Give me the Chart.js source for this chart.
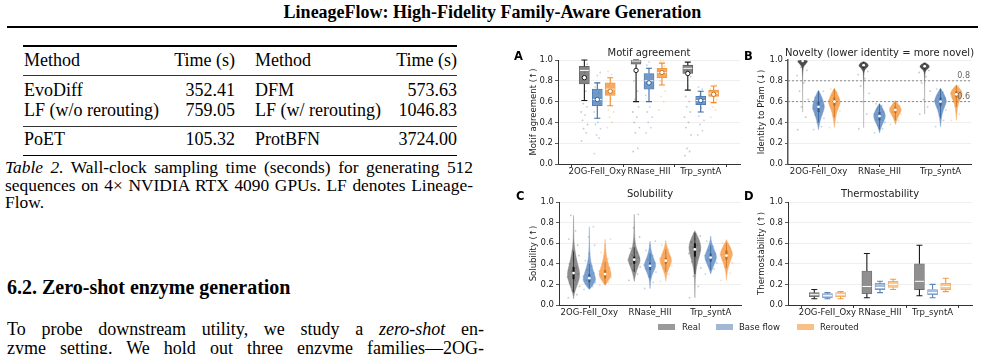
<!DOCTYPE html>
<html><head><meta charset="utf-8">
<script src="https://cdn.jsdelivr.net/npm/chart.js@4.4.1/dist/chart.umd.min.js"></script>
<style>
body{margin:0;width:985px;height:354px;overflow:hidden;background:#fff;position:relative;font-family:"Liberation Serif","Times New Roman",serif;color:#000}
.t{position:absolute;white-space:nowrap}
.c18{font-size:18px;line-height:20px}
.rule{position:absolute;background:#000}
.just{position:absolute;white-space:nowrap;text-align:justify;text-align-last:justify}
canvas{position:absolute}
.letter{position:absolute;font-family:"DejaVu Sans",sans-serif;font-weight:bold;font-size:11.5px;line-height:11px}
.patch{position:absolute;width:17px;height:6px;top:324px}
.lg{position:absolute;font-family:"DejaVu Sans",sans-serif;font-size:8.5px;line-height:10px;top:322px;color:#222;white-space:nowrap}
</style></head><body>

<div class="t" style="left:0;width:985px;text-align:center;top:2px;font-weight:bold;font-size:18px;line-height:20px">LineageFlow: High-Fidelity Family-Aware Generation</div>
<div class="rule" style="left:7px;top:26px;width:971px;height:2px"></div>

<!-- Table 2 -->
<div class="rule" style="left:23px;top:45px;width:434px;height:1.6px"></div>
<div class="t c18" style="left:24px;top:50.4px">Method</div>
<div class="t c18" style="right:750px;top:50.4px">Time (s)</div>
<div class="t c18" style="left:255px;top:50.4px">Method</div>
<div class="t c18" style="right:528px;top:50.4px">Time (s)</div>
<div class="rule" style="left:23px;top:74.5px;width:434px;height:1px;background:#333"></div>
<div class="t c18" style="left:24px;top:80.4px">EvoDiff</div>
<div class="t c18" style="right:750px;top:80.4px">352.41</div>
<div class="t c18" style="left:255px;top:80.4px">DFM</div>
<div class="t c18" style="right:528px;top:80.4px">573.63</div>
<div class="t c18" style="left:24px;top:100.4px">LF (w/o rerouting)</div>
<div class="t c18" style="right:750px;top:100.4px">759.05</div>
<div class="t c18" style="left:255px;top:100.4px">LF (w/ rerouting)</div>
<div class="t c18" style="right:528px;top:100.4px">1046.83</div>
<div class="rule" style="left:23px;top:125.5px;width:434px;height:1.2px;background:#333"></div>
<div class="t c18" style="left:24px;top:129.4px">PoET</div>
<div class="t c18" style="right:750px;top:129.4px">105.32</div>
<div class="t c18" style="left:255px;top:129.4px">ProtBFN</div>
<div class="t c18" style="right:528px;top:129.4px">3724.00</div>
<div class="rule" style="left:23px;top:154.5px;width:434px;height:1.6px"></div>

<div class="just" style="left:5px;width:468px;top:158.3px;font-size:17.4px;line-height:18px"><i>Table 2.</i> Wall-clock sampling time (seconds) for generating 512</div>
<div class="just" style="left:5px;width:468px;top:176.3px;font-size:17.4px;line-height:18px">sequences on 4× NVIDIA RTX 4090 GPUs. LF denotes Lineage-</div>
<div class="t" style="left:5px;top:193.3px;font-size:17.4px;line-height:18px">Flow.</div>

<div class="t" style="left:7px;top:275.8px;font-size:20px;line-height:22px;font-weight:bold">6.2. Zero-shot enzyme generation</div>
<div class="just c18" style="left:7px;width:477px;top:319.4px">To probe downstream utility, we study a <i>zero-shot</i> en-</div>
<div class="just c18" style="left:7px;width:477px;top:338.4px">zyme setting. We hold out three enzyme families—2OG-</div>

<!-- Figure -->
<canvas id="cA" width="240" height="135" style="left:505px;top:45px;width:240px;height:135px"></canvas>
<canvas id="cB" width="245" height="135" style="left:740px;top:45px;width:245px;height:135px"></canvas>
<canvas id="cC" width="240" height="136" style="left:505px;top:185px;width:240px;height:136px"></canvas>
<canvas id="cD" width="245" height="136" style="left:740px;top:185px;width:245px;height:136px"></canvas>
<div class="letter" style="left:514px;top:51px">A</div>
<div class="letter" style="left:744px;top:51px">B</div>
<div class="letter" style="left:516px;top:191px">C</div>
<div class="letter" style="left:744px;top:191px">D</div>

<div class="patch" style="left:658px;background:#9a9a9a"></div><div class="lg" style="left:682px">Real</div>
<div class="patch" style="left:716px;background:#a0b7d6"></div><div class="lg" style="left:739px">Base flow</div>
<div class="patch" style="left:797px;background:#f9bf87"></div><div class="lg" style="left:820px">Rerouted</div>

<script>
// ---------------- DATA ----------------
const families = ['2OG-FeII_Oxy', 'RNase_HII', 'Trp_syntA'];
const methods = ['Real', 'Base flow', 'Rerouted'];
const yTickValues = [0.0, 0.2, 0.4, 0.6, 0.8, 1.0];
const xTickIdx = [0, 1, 2];

// Panel A: Motif agreement — box stats [whisker low, Q1, median, Q3, whisker high]
const motifRealBox = [[0.61,0.77,0.90,0.94,1.00],[0.60,0.96,0.99,1.00,1.00],[0.71,0.87,0.92,0.95,0.98]];
const motifBaseBox = [[0.44,0.56,0.62,0.72,0.78],[0.60,0.72,0.80,0.87,0.92],[0.50,0.57,0.61,0.65,0.70]];
const motifRerBox  = [[0.56,0.66,0.72,0.78,0.83],[0.76,0.83,0.88,0.92,0.97],[0.59,0.65,0.68,0.71,0.75]];
const motifRealMean = [0.83, 0.90, 0.87];
const motifBaseMean = [0.62, 0.78, 0.61];
const motifRerMean  = [0.70, 0.88, 0.67];
const motifRealPts = [[0.22,0.30,0.34,0.38,0.42,0.47,0.50,0.55,0.58,0.70,0.80,0.88,0.96],[0.12,0.15,0.30,0.35,0.40,0.45,0.50,0.55,0.62,0.70,0.80,0.88],[0.08,0.12,0.15,0.28,0.35,0.40,0.45,0.50,0.55,0.60,0.65,0.75,0.84,0.90]];
const motifBasePts = [[0.10,0.25,0.28,0.34,0.38,0.40,0.50,0.58,0.63,0.68,0.74,0.85,0.88],[0.30,0.35,0.40,0.45,0.50,0.55,0.66,0.74,0.80,0.86,0.95,0.98],[0.28,0.32,0.38,0.42,0.46,0.54,0.58,0.62,0.66,0.72,0.74]];
const motifRerPts  = [[0.35,0.40,0.45,0.50,0.52,0.62,0.68,0.72,0.76,0.86,0.89],[0.52,0.60,0.65,0.70,0.80,0.86,0.90,0.94,0.99,1.00],[0.45,0.52,0.55,0.62,0.66,0.69,0.72,0.76]];

// Panel B: Novelty (identity to Pfam) — violin density knots [value, relative density]
const novRealKnots = [
  [[0.50,0.005],[0.90,0.01],[0.95,0.25],[0.975,0.75],[0.99,0.85],[1.00,0.6]],
  [[0.35,0.005],[0.86,0.01],[0.91,0.2],[0.93,0.65],[0.95,0.85],[0.97,0.55],[0.985,0.08]],
  [[0.48,0.005],[0.86,0.01],[0.90,0.2],[0.92,0.65],[0.94,0.85],[0.96,0.55],[0.975,0.08]]];
const novBaseKnots = [
  [[0.33,0.0],[0.38,0.12],[0.45,0.45],[0.52,0.9],[0.56,1.0],[0.62,0.7],[0.67,0.35],[0.71,0.0]],
  [[0.30,0.0],[0.35,0.2],[0.42,0.8],[0.46,1.0],[0.50,0.8],[0.55,0.4],[0.58,0.0]],
  [[0.36,0.0],[0.44,0.12],[0.52,0.45],[0.58,0.9],[0.61,1.0],[0.66,0.7],[0.73,0.0]]];
const novRerKnots = [
  [[0.35,0.0],[0.42,0.12],[0.50,0.4],[0.57,0.9],[0.60,1.0],[0.65,0.7],[0.70,0.3],[0.73,0.0]],
  [[0.38,0.0],[0.44,0.3],[0.50,0.9],[0.52,1.0],[0.56,0.7],[0.61,0.0]],
  [[0.42,0.0],[0.55,0.15],[0.62,0.6],[0.67,1.0],[0.71,0.8],[0.76,0.0]]];
const novRealStats = [[0.97,0.98,0.99,1.00,1.00],[0.92,0.94,0.95,0.96,0.98],[0.91,0.93,0.94,0.95,0.97]];
const novBaseStats = [[0.40,0.50,0.55,0.60,0.70],[0.33,0.42,0.46,0.50,0.58],[0.44,0.56,0.60,0.64,0.72]];
const novRerStats  = [[0.45,0.56,0.60,0.64,0.72],[0.42,0.49,0.52,0.55,0.60],[0.55,0.64,0.67,0.70,0.76]];
const novRealPts = [[0.33,0.45,0.55,0.62,0.70,0.78,0.85,0.90,0.93,0.96],[0.34,0.48,0.60,0.68,0.75,0.82,0.86,0.89,0.91],[0.48,0.55,0.62,0.70,0.78,0.84,0.88,0.90]];
const novBasePts = [[0.33,0.36,0.40,0.44,0.47,0.50,0.53,0.56,0.58,0.61,0.64,0.67,0.70],[0.30,0.34,0.37,0.40,0.43,0.45,0.48,0.50,0.53,0.56,0.58],[0.36,0.42,0.47,0.52,0.55,0.58,0.61,0.63,0.66,0.69,0.72]];
const novRerPts  = [[0.35,0.40,0.46,0.51,0.55,0.58,0.61,0.63,0.66,0.69,0.72],[0.38,0.42,0.45,0.48,0.50,0.52,0.54,0.56,0.58,0.60],[0.42,0.48,0.55,0.60,0.63,0.66,0.68,0.70,0.72,0.75]];
const noveltyThresholds = [0.8, 0.6];

// Panel C: Solubility — violin density knots
const solRealKnots = [
  [[0.06,0.0],[0.10,0.08],[0.15,0.3],[0.22,0.75],[0.28,1.0],[0.34,0.9],[0.42,0.55],[0.50,0.3],[0.58,0.12],[0.65,0.05],[0.87,0.0]],
  [[0.23,0.0],[0.30,0.2],[0.37,0.6],[0.43,1.0],[0.48,0.8],[0.54,0.4],[0.60,0.15],[0.70,0.05],[0.88,0.0]],
  [[0.07,0.0],[0.20,0.04],[0.30,0.1],[0.40,0.35],[0.48,0.75],[0.56,1.0],[0.62,0.75],[0.68,0.35],[0.72,0.0]]];
const solBaseKnots = [
  [[0.15,0.0],[0.18,0.4],[0.23,0.95],[0.26,1.0],[0.32,0.7],[0.38,0.4],[0.45,0.15],[0.55,0.05],[0.76,0.0]],
  [[0.16,0.0],[0.25,0.1],[0.32,0.5],[0.38,1.0],[0.43,0.7],[0.50,0.3],[0.56,0.1],[0.62,0.0]],
  [[0.30,0.0],[0.35,0.25],[0.40,0.6],[0.46,1.0],[0.51,0.75],[0.57,0.35],[0.62,0.1],[0.66,0.0]]];
const solRerKnots = [
  [[0.19,0.0],[0.22,0.35],[0.27,0.85],[0.30,1.0],[0.35,0.75],[0.42,0.4],[0.50,0.15],[0.64,0.0]],
  [[0.23,0.0],[0.30,0.15],[0.37,0.6],[0.43,1.0],[0.48,0.7],[0.54,0.3],[0.62,0.0]],
  [[0.24,0.0],[0.32,0.1],[0.40,0.45],[0.47,0.9],[0.50,1.0],[0.55,0.7],[0.60,0.3],[0.63,0.0]]];
const solRealStats = [[0.12,0.25,0.31,0.37,0.52],[0.32,0.40,0.44,0.47,0.56],[0.30,0.47,0.54,0.60,0.70]];
const solBaseStats = [[0.16,0.22,0.26,0.30,0.40],[0.26,0.34,0.38,0.41,0.50],[0.34,0.42,0.46,0.50,0.58]];
const solRerStats  = [[0.20,0.26,0.30,0.34,0.42],[0.32,0.40,0.43,0.46,0.54],[0.36,0.44,0.48,0.53,0.60]];
const solRealPts = [[0.07,0.10,0.14,0.18,0.21,0.24,0.27,0.30,0.33,0.36,0.40,0.44,0.48,0.53,0.58,0.64,0.72,0.87],[0.24,0.30,0.34,0.37,0.40,0.42,0.44,0.46,0.48,0.51,0.55,0.60,0.66,0.75,0.88],[0.07,0.18,0.28,0.36,0.42,0.46,0.50,0.53,0.56,0.58,0.61,0.64,0.67,0.70]];
const solBasePts = [[0.15,0.18,0.20,0.22,0.24,0.26,0.28,0.31,0.34,0.38,0.43,0.50,0.58,0.66,0.76],[0.16,0.22,0.28,0.32,0.35,0.37,0.39,0.41,0.44,0.48,0.53,0.58,0.62],[0.30,0.35,0.38,0.41,0.44,0.46,0.48,0.50,0.53,0.57,0.62,0.66]];
const solRerPts  = [[0.19,0.22,0.25,0.27,0.29,0.31,0.33,0.36,0.40,0.45,0.51,0.58,0.64],[0.23,0.30,0.35,0.38,0.41,0.43,0.45,0.47,0.50,0.54,0.58,0.62],[0.24,0.31,0.37,0.41,0.44,0.47,0.49,0.51,0.54,0.57,0.60,0.63]];

// Panel D: Thermostability — box stats [whisker low, Q1, median, Q3, whisker high]
const thermoRealBox = [[0.06,0.08,0.10,0.12,0.15],[0.07,0.11,0.18,0.33,0.50],[0.09,0.15,0.23,0.40,0.58]];
const thermoBaseBox = [[0.06,0.07,0.09,0.11,0.12],[0.12,0.15,0.17,0.21,0.23],[0.07,0.10,0.12,0.15,0.20]];
const thermoRerBox  = [[0.06,0.08,0.10,0.12,0.13],[0.15,0.17,0.20,0.23,0.25],[0.13,0.15,0.18,0.21,0.26]];

// ---------------- STYLE ----------------
const boxOffsets = [-0.25, 0, 0.25];
const violinOffsets = [-0.26, 0, 0.26];
const jitterSteps = [-0.8,0.5,-0.2,0.9,-0.5,0.2,-0.9,0.7,-0.3,0.4,-0.6,0.0,0.8,-0.1,0.6,-0.7,0.3,-0.4];
const ptColors = ['rgba(70,70,70,0.3)','rgba(60,110,170,0.3)','rgba(240,140,40,0.3)'];

Chart.defaults.font.family = '"DejaVu Sans", sans-serif';
Chart.defaults.color = '#222';

function baseOptions(cfg) {
  return {
    responsive: false, animation: false, events: [],
    layout: { padding: { top: cfg.padTop, right: cfg.padRight, left: 0, bottom: 0 } },
    plugins: { legend: { display: false }, tooltip: { enabled: false }, title: { display: false },
      panelTitle: { text: cfg.title, y: cfg.titleY } },
    scales: {
      x: { type: 'linear', min: cfg.xMin, max: cfg.xMax, offset: false,
        afterBuildTicks: s => { s.ticks = xTickIdx.map(v => ({ value: v })); },
        afterFit: s => { s.height = 16; },
        ticks: { callback: v => families[v], font: { size: 8.5 }, color: '#222', padding: 0, maxRotation: 0, autoSkip: false },
        grid: { drawOnChartArea: false, tickLength: 3, tickColor: '#333', color: '#333' },
        border: { display: true, color: '#333', width: 1 } },
      y: { type: 'linear', min: 0, max: 1,
        afterBuildTicks: s => { s.ticks = yTickValues.map(v => ({ value: v })); },
        afterFit: s => { s.width = cfg.yWidth; },
        ticks: { callback: v => v.toFixed(1), font: { size: 8.5 }, color: '#222', padding: 2 },
        grid: { color: '#ebebeb', lineWidth: 0.8, tickLength: 3, tickColor: '#333' },
        border: { display: true, color: cfg.spineColor || '#333', width: cfg.spineWidth || 1 },
        title: { display: true, text: cfg.yTitle, font: { size: 8.5 }, color: '#222', padding: { top: cfg.yTitlePad, bottom: 0 } } }
    }
  };
}

const panelTitle = {
  id: 'panelTitle',
  afterDraw(chart, args, opts) {
    const a = chart.chartArea, ctx = chart.ctx;
    ctx.save();
    ctx.font = '10px "DejaVu Sans"'; ctx.fillStyle = '#222';
    ctx.textAlign = 'center'; ctx.textBaseline = 'middle';
    ctx.fillText(opts.text, (a.left + a.right) / 2, opts.y);
    ctx.restore();
  }
};

// whiskers, caps and medians for the floating-bar boxes
const boxWhiskers = {
  id: 'boxWhiskers',
  afterDatasetDraw(chart, args) {
    const ds = chart.data.datasets[args.index];
    if (!ds.stats) return;
    const xs = chart.scales.x, ys = chart.scales.y, ctx = chart.ctx;
    ctx.save();
    ctx.beginPath(); ctx.rect(chart.chartArea.left, chart.chartArea.top - 1, chart.chartArea.width, chart.chartArea.height + 1); ctx.clip();
    ds.stats.forEach((s, i) => {
      const cx = xs.getPixelForValue(i + ds.off);
      const [lo, q1, med, q3, hi] = s.map(v => ys.getPixelForValue(v));
      ctx.strokeStyle = ds.whisker; ctx.lineWidth = 1.1;
      ctx.beginPath();
      ctx.moveTo(cx, lo); ctx.lineTo(cx, q1);
      ctx.moveTo(cx, q3); ctx.lineTo(cx, hi);
      ctx.moveTo(cx - 3, lo); ctx.lineTo(cx + 3, lo);
      ctx.moveTo(cx - 3, hi); ctx.lineTo(cx + 3, hi);
      ctx.stroke();
      ctx.strokeStyle = '#ffffff'; ctx.lineWidth = 1;
      ctx.beginPath(); ctx.moveTo(cx - 4.5, med); ctx.lineTo(cx + 4.5, med); ctx.stroke();
    });
    ctx.restore();
  }
};

function smoothClosed(ctx, pts) {
  ctx.moveTo(pts[0][0], pts[0][1]);
  for (let i = 1; i < pts.length - 1; i++) {
    const mx = (pts[i][0] + pts[i + 1][0]) / 2, my = (pts[i][1] + pts[i + 1][1]) / 2;
    ctx.quadraticCurveTo(pts[i][0], pts[i][1], mx, my);
  }
  const l = pts[pts.length - 1];
  ctx.lineTo(l[0], l[1]);
  ctx.closePath();
}

function violinPlugin(groups, hwUnits, thresholds) {
  return {
    id: 'violins',
    beforeDatasetsDraw(chart) {
      const xs = chart.scales.x, ys = chart.scales.y, ctx = chart.ctx, a = chart.chartArea;
      const hw = xs.getPixelForValue(hwUnits) - xs.getPixelForValue(0);
      ctx.save();
      ctx.beginPath(); ctx.rect(a.left, a.top, a.width, a.height); ctx.clip();
      groups.forEach(g => {
        g.knots.forEach((kn, i) => {
          const cx = xs.getPixelForValue(i + g.off);
          const right = kn.map(([v, w]) => [cx + Math.max(w, 0.005) * hw, ys.getPixelForValue(v)]);
          const left = kn.slice().reverse().map(([v, w]) => [cx - Math.max(w, 0.005) * hw, ys.getPixelForValue(v)]);
          ctx.beginPath();
          smoothClosed(ctx, right.concat(left));
          ctx.fillStyle = g.fill; ctx.fill();
          ctx.strokeStyle = g.edge; ctx.lineWidth = 0.4; ctx.stroke();
        });
      });
      ctx.restore();
    },
    afterDatasetsDraw(chart) {
      const xs = chart.scales.x, ys = chart.scales.y, ctx = chart.ctx, a = chart.chartArea;
      ctx.save();
      if (thresholds) {
        ctx.setLineDash([2, 2]); ctx.strokeStyle = '#8a8a8a'; ctx.lineWidth = 1;
        thresholds.forEach(t => {
          const y = ys.getPixelForValue(t);
          ctx.beginPath(); ctx.moveTo(a.left, y); ctx.lineTo(a.right, y); ctx.stroke();
        });
        ctx.setLineDash([]);
        ctx.font = '8px "DejaVu Sans"'; ctx.fillStyle = '#666'; ctx.textAlign = 'right'; ctx.textBaseline = 'bottom';
        thresholds.forEach(t => ctx.fillText(t.toFixed(1), a.right - 1, ys.getPixelForValue(t) - 0.5));
      }
      groups.forEach(g => {
        g.stats.forEach((s, i) => {
          const cx = xs.getPixelForValue(i + g.off);
          const [lo, q1, med, q3, hi] = s.map(v => ys.getPixelForValue(v));
          ctx.strokeStyle = g.inner;
          ctx.lineWidth = 0.7; ctx.beginPath(); ctx.moveTo(cx, lo); ctx.lineTo(cx, hi); ctx.stroke();
          ctx.lineWidth = 2; ctx.beginPath(); ctx.moveTo(cx, q1); ctx.lineTo(cx, q3); ctx.stroke();
          ctx.fillStyle = '#fff'; ctx.beginPath(); ctx.arc(cx, med, 1.4, 0, Math.PI * 2); ctx.fill();
        });
      });
      ctx.restore();
    }
  };
}

function stripData(ptsByFamily, offs, spread) {
  const out = [];
  ptsByFamily.forEach((vals, i) => vals.forEach((v, k) => out.push({ x: i + offs + jitterSteps[k % jitterSteps.length] * spread, y: v })));
  return out;
}

// ---------------- Panel A ----------------
(function () {
  const boxes = [motifRealBox, motifBaseBox, motifRerBox];
  const means = [motifRealMean, motifBaseMean, motifRerMean];
  const pts = [motifRealPts, motifBasePts, motifRerPts];
  const fills = ['#858585', '#7199c8', '#f6aa62'];
  const edges = ['#5a5a5a', '#4a78b0', '#ee9640'];
  const whisk = ['#1a1a1a', '#3a6aa5', '#f08a22'];
  const meanEdge = ['#1a1a1a', '#2f5f99', '#cf7416'];
  const ds = [];
  boxes.forEach((b, m) => ds.push({ type: 'bar', label: methods[m],
    data: families.map((f, i) => ({ x: i + boxOffsets[m], y: [b[i][1], b[i][3]] })),
    backgroundColor: fills[m], borderColor: edges[m], borderWidth: 0.8, barThickness: 10, grouped: false,
    borderSkipped: false, order: 3, stats: b, off: boxOffsets[m], whisker: whisk[m] }));
  pts.forEach((p, m) => ds.push({ type: 'scatter', label: methods[m] + ' samples', data: stripData(p, boxOffsets[m], 0.07),
    pointRadius: 0.9, backgroundColor: ptColors[m], borderWidth: 0, order: 2 }));
  means.forEach((mv, m) => ds.push({ type: 'scatter', label: methods[m] + ' mean',
    data: families.map((f, i) => ({ x: i + boxOffsets[m], y: mv[i] })),
    pointRadius: 2.2, backgroundColor: '#ffffff', borderColor: meanEdge[m], borderWidth: 1, order: 1 }));
  new Chart(document.getElementById('cA'), { type: 'scatter', data: { datasets: ds },
    options: baseOptions({ padTop: 15, padRight: 2, xMin: -0.76, xMax: 2.76, yWidth: 53, yTitle: 'Motif agreement (↑)', yTitlePad: 24, title: 'Motif agreement', titleY: 8.3 }),
    plugins: [boxWhiskers, panelTitle] });
})();

// ---------------- Panel B ----------------
(function () {
  const groups = [
    { knots: novRealKnots, stats: novRealStats, off: violinOffsets[0], fill: '#4d4d4d', edge: 'rgba(120,120,120,0.6)', inner: '#111' },
    { knots: novBaseKnots, stats: novBaseStats, off: violinOffsets[1], fill: 'rgba(95,138,192,0.85)', edge: '#6d96c8', inner: '#2d5a92' },
    { knots: novRerKnots, stats: novRerStats, off: violinOffsets[2], fill: 'rgba(245,160,80,0.9)', edge: '#f6ad6a', inner: '#c46a12' }];
  const pts = [novRealPts, novBasePts, novRerPts];
  const ds = pts.map((p, m) => ({ type: 'scatter', label: methods[m], data: stripData(p, violinOffsets[m], 0.1),
    pointRadius: 0.9, backgroundColor: ptColors[m], borderWidth: 0 }));
  const o = baseOptions({ padTop: 15, padRight: 14, xMin: -0.5, xMax: 2.5, yWidth: 48, yTitle: 'Identity to Pfam (↓)', yTitlePad: 17, title: 'Novelty (lower identity = more novel)', titleY: 8.3, spineColor: '#555', spineWidth: 1.5 });
  new Chart(document.getElementById('cB'), { type: 'scatter', data: { datasets: ds }, options: o,
    plugins: [violinPlugin(groups, 0.1, noveltyThresholds), panelTitle] });
})();

// ---------------- Panel C ----------------
(function () {
  const groups = [
    { knots: solRealKnots, stats: solRealStats, off: violinOffsets[0], fill: 'rgba(120,120,120,0.85)', edge: '#8c8c8c', inner: '#111' },
    { knots: solBaseKnots, stats: solBaseStats, off: violinOffsets[1], fill: 'rgba(100,143,196,0.85)', edge: '#7ea3cf', inner: '#2d5a92' },
    { knots: solRerKnots, stats: solRerStats, off: violinOffsets[2], fill: 'rgba(246,162,84,0.9)', edge: '#f8b478', inner: '#c46a12' }];
  const pts = [solRealPts, solBasePts, solRerPts];
  const ds = pts.map((p, m) => ({ type: 'scatter', label: methods[m], data: stripData(p, violinOffsets[m], 0.11),
    pointRadius: 0.9, backgroundColor: ptColors[m], borderWidth: 0 }));
  new Chart(document.getElementById('cC'), { type: 'scatter', data: { datasets: ds },
    options: baseOptions({ padTop: 17, padRight: 3, xMin: -0.5, xMax: 2.5, yWidth: 54, yTitle: 'Solubility (↑)', yTitlePad: 24, title: 'Solubility', titleY: 9.7 }),
    plugins: [violinPlugin(groups, 0.105, null), panelTitle] });
})();

// ---------------- Panel D ----------------
(function () {
  const boxes = [thermoRealBox, thermoBaseBox, thermoRerBox];
  const fills = ['#8f8f8f', '#a9bedb', '#fbc590'];
  const edges = ['#6e6e6e', '#7499c6', '#f5a85a'];
  const whisk = ['#1a1a1a', '#5a85b9', '#f29a3c'];
  const ds = boxes.map((b, m) => ({ type: 'bar', label: methods[m],
    data: families.map((f, i) => ({ x: i + boxOffsets[m], y: [b[i][1], b[i][3]] })),
    backgroundColor: fills[m], borderColor: edges[m], borderWidth: 0.8, barThickness: 10, grouped: false,
    borderSkipped: false, stats: b, off: boxOffsets[m], whisker: whisk[m] }));
  new Chart(document.getElementById('cD'), { type: 'scatter', data: { datasets: ds },
    options: baseOptions({ padTop: 17, padRight: 13, xMin: -0.75, xMax: 2.75, yWidth: 48, yTitle: 'Thermostability (↑)', yTitlePad: 17, title: 'Thermostability', titleY: 9.7 }),
    plugins: [boxWhiskers, panelTitle] });
})();
</script>
</body></html>
